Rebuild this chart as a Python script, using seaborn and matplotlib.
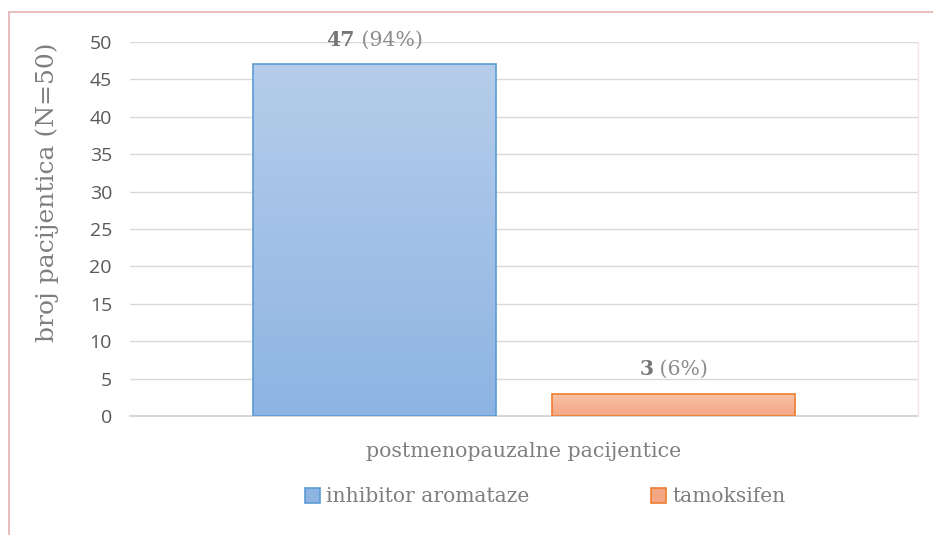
import numpy as np
import pandas as pd
import seaborn as sns
import matplotlib
matplotlib.use("Agg")
import matplotlib.pyplot as plt
from matplotlib.patches import Patch
from matplotlib.lines import Line2D
from matplotlib.colors import to_rgb

category = ["postmenopauzalne pacijentice"]
series = ["inhibitor aromataze", "tamoksifen"]
counts = [47, 3]
percents = ["94%", "6%"]
y_ticks = [0, 5, 10, 15, 20, 25, 30, 35, 40, 45, 50]
y_label = "broj pacijentica (N=50)"

face_top = ["#b5cdea", "#f8c3a8"]
face_bot = ["#8eb4e3", "#f4a784"]
edges = ["#5b9bd5", "#ed7d31"]

df = pd.DataFrame({"kat": category * len(series), "terapija": series, "broj": counts})

sns.set_theme(style="white")
plt.rcParams["font.family"] = ["DejaVu Serif"]
serif = "DejaVu Serif"
sansf = "Open Sans"
gray = "#7f7f7f"

fig = plt.figure(figsize=(9.33, 5.35), dpi=100)
ax = fig.add_axes([130/933, 1-416/535, (918-130)/933, (416-42)/535])

sns.barplot(data=df, x="kat", y="broj", hue="terapija", hue_order=series,
            palette=face_bot, width=0.76, gap=0.19, ax=ax, legend=False,
            linewidth=1.2, zorder=3)

ax.set_xlim(-0.5, 0.5)
ax.set_ylim(0, 50)
ax.set_yticks(y_ticks)
ax.yaxis.grid(True, color="#d9d9d9", linewidth=1.0, zorder=0)
ax.set_axisbelow(True)
for s in ["top", "right", "left"]:
    ax.spines[s].set_visible(False)
ax.spines["bottom"].set_color("#d0d0d0")
ax.spines["bottom"].set_linewidth(1.2)
ax.tick_params(axis="both", length=0)
ax.tick_params(axis="y", pad=13, labelsize=14, labelcolor="#595959")
ax.tick_params(axis="x", pad=19, labelsize=14.8, labelcolor=gray)
for t in ax.get_yticklabels():
    t.set_fontfamily(sansf)
for t in ax.get_xticklabels():
    t.set_fontfamily(serif)
ax.set_xlabel("")
ax.set_ylabel("")

# gradient fills
bars = [p for p in ax.patches]
grad = np.linspace(0, 1, 256).reshape(-1, 1)
for i, p in enumerate(bars):
    x0, y0 = p.get_x(), p.get_y()
    w, h = p.get_width(), p.get_height()
    top = np.array(to_rgb(face_top[i])); bot = np.array(to_rgb(face_bot[i]))
    img = top[None, None, :] * (1 - grad[:, :, None]) + bot[None, None, :] * grad[:, :, None]
    im = ax.imshow(img, extent=[x0, x0 + w, y0, y0 + h], origin="upper",
                   aspect="auto", zorder=3.5, interpolation="bilinear")
    im.set_clip_path(p)
    p.set_facecolor("none")
    p.set_edgecolor(edges[i])
    p.set_zorder(4)
ax.set_xlim(-0.5, 0.5)
ax.set_ylim(0, 50)

# data labels
fig.canvas.draw()
r = fig.canvas.get_renderer()
off = 10.5
for i, p in enumerate(bars):
    cx = p.get_x() + p.get_width() / 2
    top = p.get_y() + p.get_height()
    t1 = ax.annotate(str(counts[i]), xy=(cx, top), xytext=(0, off), textcoords="offset points",
                     ha="left", va="bottom", fontsize=14.7, fontweight="bold", color="#767676",
                     family=serif, zorder=6)
    t2 = ax.annotate(f" ({percents[i]})", xy=(cx, top), xytext=(0, off), textcoords="offset points",
                     ha="left", va="bottom", fontsize=14.7, color="#8c8c8c",
                     family=serif, zorder=6)
    w1 = t1.get_window_extent(r).width
    w2 = t2.get_window_extent(r).width
    tot = w1 + w2
    pt = 72 / fig.dpi
    t1.set_position((-tot / 2 * pt, off))
    t2.set_position((-tot / 2 * pt + w1 * pt, off))

# y label
fig.text(47/933, 1-192/535, y_label, rotation=90, ha="center", va="center",
         fontsize=18, color=gray, family=serif)

# legend
handles = [Patch(facecolor=face_bot[i], edgecolor=edges[i], linewidth=1.2) for i in range(2)]
leg = fig.legend(handles, series, loc="center", bbox_to_anchor=(545/933, 1-497/535),
                 ncol=2, frameon=False, handlelength=0.75, handleheight=0.75,
                 handletextpad=0.3, columnspacing=6.0, prop={"family": serif, "size": 14.6})
for t in leg.get_texts():
    t.set_color(gray)

# outer border (pink)
bc = "#e6b9b8"
fig.add_artist(Line2D([9/933, 9/933], [0, 1-12/535], color=bc, linewidth=1.3, transform=fig.transFigure))
fig.add_artist(Line2D([9/933, 1], [1-12/535, 1-12/535], color=bc, linewidth=1.3, transform=fig.transFigure))
fig.add_artist(Line2D([918/933, 918/933], [1-416/535, 1-42/535], color="#f8e4e4", linewidth=1.0, transform=fig.transFigure))

fig.savefig("out.png", dpi=100)
